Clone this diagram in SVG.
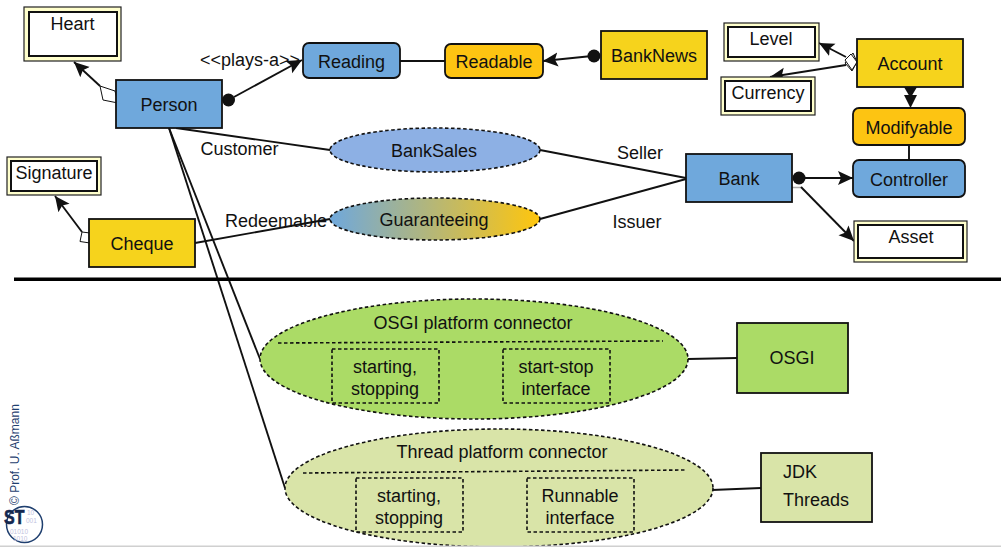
<svg xmlns="http://www.w3.org/2000/svg" width="1001" height="547" viewBox="0 0 1001 547">
<style>
text{font-family:"Liberation Sans",Arial,sans-serif;font-size:18px;fill:#111;text-anchor:middle}
.n{stroke:#111;stroke-width:1.8}
.blue{fill:#6fa8dc}.yel{fill:#f6d31c}.org{fill:#fdc412}
.o{fill:#ffffcc;stroke:#222;stroke-width:1.2}
.i{fill:#fff;stroke:#111;stroke-width:2}
.d{fill:none;stroke:#111;stroke-width:1.6;stroke-dasharray:3.500 2.500}
.e{stroke:#111;stroke-width:1.6;stroke-dasharray:3.500 2.500}
.c{fill:none;stroke:#111;stroke-width:1.9}
.a{marker-end:url(#arr)}
.dia{fill:#fff;stroke:#111;stroke-width:1}
.dg{font-size:6.500px;fill:#bfc3e0;text-anchor:start}
</style>
<defs>
<marker id="arr" markerUnits="userSpaceOnUse" markerWidth="18" markerHeight="16" refX="15" refY="8" orient="auto"><path d="M0 1L15 8L0 15L3 8z" fill="#111"/></marker>
<linearGradient id="g"><stop offset="0" stop-color="#6fa8dc"/><stop offset="1" stop-color="#ffc60d"/></linearGradient>
</defs>
<rect width="1001" height="547" fill="#fff"/>
<g id="connectors">
<path class="c a" d="M100 86L74 62"/>
<path class="c a" d="M234 97L302 60"/>
<path class="c" d="M400 61H445"/>
<path class="c a" d="M592 56L543 61"/>
<path class="c" d="M176 128L330 150"/>
<path class="c" d="M540 150L686 178"/>
<path class="c" d="M195 243L330 219"/>
<path class="c" d="M540 219L686 179"/>
<path class="c" d="M169 128L260 359"/>
<path class="c" d="M169 128L285 488"/>
<path class="c a" d="M82 232L55 196"/>
<path class="c a" d="M846 57L819 43"/>
<path class="c a" d="M846 65L770 77"/>
<path d="M904 87H917L910.500 98z" fill="#111"/>
<path d="M904 95H917L910.500 108z" fill="#111"/>
<path class="c" d="M909 145V160"/>
<path class="c a" d="M799 178H853"/>
<path d="M792 187.500H801" stroke="#aaa" stroke-width="1.500"/>
<path class="c a" d="M801 187L854 241"/>
<path class="c" d="M688 359L737 358"/>
<path class="c" d="M712 490L761 488"/>
<path class="c" d="M439 376H503"/>
<path class="c" d="M463 505H527"/>
<circle cx="228.500" cy="100" r="6.500" fill="#111"/>
<circle cx="594" cy="56" r="6.500" fill="#111"/>
<circle cx="799" cy="178" r="6.500" fill="#111"/>
<path class="dia" d="M118 103L103 100L100 86L115 91z"/>
<path class="dia" d="M90 233L90 243L80 241.500L82 232z"/>
<path class="dia" d="M857 62L852 71L845 63L853 53z"/>
<path class="dia" d="M857 62L851 54L845 60L852 70z"/>
</g>
<g id="heart"><rect class="o" x="24" y="7" width="97" height="54"/><rect class="i" x="29" y="12" width="88" height="44"/><text x="72.500" y="30">Heart</text></g>
<g id="person"><rect class="n blue" x="116" y="80" width="106" height="48"/><text x="169" y="111">Person</text></g>
<g id="reading"><rect class="n blue" x="303" y="43" width="97" height="35" rx="6"/><text x="351.500" y="68">Reading</text></g>
<g id="readable"><rect class="n org" x="445" y="44" width="98" height="34" rx="6"/><text x="494" y="68">Readable</text></g>
<g id="banknews"><rect class="n yel" x="601" y="31" width="106" height="48"/><text x="654" y="62">BankNews</text></g>
<g id="level"><rect class="o" x="724" y="23" width="95" height="38"/><rect class="i" x="728" y="27" width="87" height="30"/><text x="771" y="45">Level</text></g>
<g id="currency"><rect class="o" x="721" y="77" width="94" height="38"/><rect class="i" x="725" y="81" width="86" height="30"/><text x="768" y="99">Currency</text></g>
<g id="account"><rect class="n yel" x="857" y="39" width="106" height="48"/><text x="910" y="70">Account</text></g>
<g id="modifyable"><rect class="n org" x="853" y="108" width="112" height="37" rx="6"/><text x="909" y="134">Modifyable</text></g>
<g id="controller"><rect class="n blue" x="853" y="160" width="112" height="37" rx="6"/><text x="909" y="186">Controller</text></g>
<g id="bank"><rect class="n blue" x="686" y="154" width="106" height="48"/><text x="739" y="185">Bank</text></g>
<g id="asset"><rect class="o" x="854" y="221" width="113" height="41"/><rect class="i" x="858" y="225" width="105" height="33"/><text x="911" y="243">Asset</text></g>
<g id="signature"><rect class="o" x="7" y="157" width="94" height="38"/><rect class="i" x="11" y="161" width="86" height="30"/><text x="54" y="179">Signature</text></g>
<g id="cheque"><rect class="n yel" x="89" y="219" width="106" height="48"/><text x="142" y="250">Cheque</text></g>
<g id="banksales"><ellipse class="e" cx="435" cy="150" rx="105" ry="22" fill="#8db0e4"/><text x="434" y="157">BankSales</text></g>
<g id="guaranteeing"><ellipse class="e" cx="435" cy="219" rx="105" ry="21" fill="url(#g)"/><text x="434" y="226">Guaranteeing</text></g>
<g id="labels">
<text x="250" y="66">&lt;&lt;plays-a&gt;&gt;</text>
<text x="239.500" y="155">Customer</text>
<text x="276" y="227">Redeemable</text>
<text x="640" y="159">Seller</text>
<text x="637" y="228">Issuer</text>
</g>
<rect x="14" y="277.500" width="987" height="3.500" fill="#000"/>
<g id="osgi-connector"><ellipse class="e" cx="474" cy="359" rx="214" ry="60" fill="#abdb66"/><path class="d" d="M278 343L663 341"/><text x="473" y="329">OSGI platform connector</text>
<rect class="d" x="332" y="349" width="107" height="54"/><text x="385" y="373">starting,</text><text x="385" y="395">stopping</text>
<rect class="d" x="503" y="349" width="107" height="54"/><text x="556" y="373">start-stop</text><text x="556" y="395">interface</text></g>
<g id="osgi"><rect class="n" x="737" y="323" width="111" height="70" fill="#abdb66"/><text x="792" y="364">OSGI</text></g>
<g id="thread-connector"><ellipse class="e" cx="499" cy="488" rx="214" ry="59" fill="#d9e4a8"/><path class="d" d="M303 473L687 470"/><text x="502" y="458">Thread platform connector</text>
<rect class="d" x="356" y="478" width="107" height="54"/><text x="409" y="502">starting,</text><text x="409" y="524">stopping</text>
<rect class="d" x="527" y="478" width="107" height="54"/><text x="580" y="502">Runnable</text><text x="580" y="524">interface</text></g>
<g id="jdk"><rect class="n" x="761" y="453" width="111" height="69" fill="#d9e4a8"/><text x="783" y="478" style="text-anchor:start">JDK</text><text x="783" y="506" style="text-anchor:start">Threads</text></g>
<rect y="545.500" width="1001" height="1.500" fill="#d0d0d0"/>
<g id="logo">
<text transform="translate(19 505) rotate(-90)" style="font-size:12px;text-anchor:start;fill:#1f3f6f">© Prof. U. Aßmann</text>
<circle cx="24.500" cy="524.500" r="18" fill="#fff" stroke="#1f3f6f" stroke-width="1.500"/>
<text class="dg" x="27" y="515">10</text><text class="dg" x="26" y="523">001</text><text class="dg" x="10" y="534">01010</text><text class="dg" x="13" y="541">1010</text>
<text transform="translate(4 524) scale(.76 1)" style="font-size:21px;font-weight:bold;fill:#14284f;stroke:#14284f;stroke-width:.7;text-anchor:start">ST</text>
</g>
</svg>
